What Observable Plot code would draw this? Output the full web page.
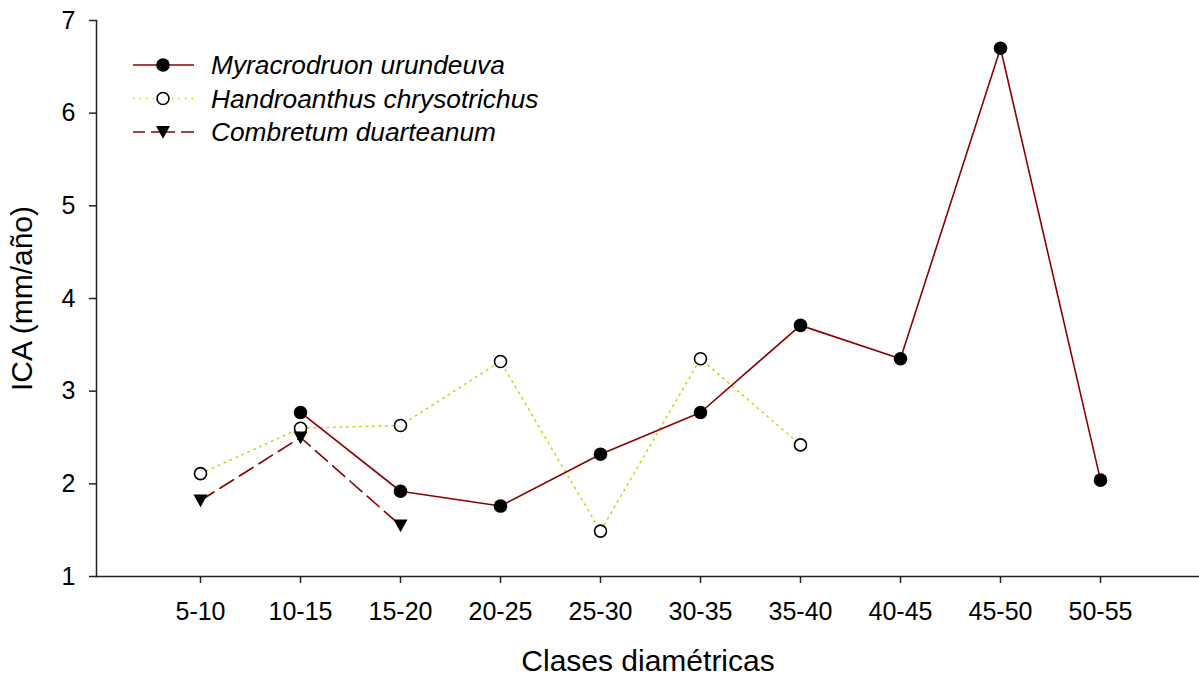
<!DOCTYPE html>
<html><head><meta charset="utf-8">
<script src="https://cdn.jsdelivr.net/npm/d3@7"></script>
<script src="https://cdn.jsdelivr.net/npm/@observablehq/plot@0.6"></script>
<style>body{margin:0;background:#fff;}</style>
</head><body><div id="chart"></div>
<script>
const classes = ["5-10","10-15","15-20","20-25","25-30","30-35","35-40","40-45","45-50","50-55"];
const myracrodruon = [null, 2.77, 1.92, 1.76, 2.32, 2.77, 3.71, 3.35, 6.70, 2.04];
const handroanthus = [2.11, 2.60, 2.63, 3.32, 1.49, 3.35, 2.42, null, null, null];
const combretum = [1.82, 2.50, 1.55, null, null, null, null, null, null, null];
const seriesNames = ["Myracrodruon urundeuva", "Handroanthus chrysotrichus", "Combretum duarteanum"];
const yTicks = [1, 2, 3, 4, 5, 6, 7];
const xTitle = "Clases diamétricas";
const yTitle = "ICA (mm/año)";

const toRows = (vals) => classes.map((c, i) => ({cls: c, v: vals[i]})).filter(d => d.v != null);
const myr = toRows(myracrodruon), han = toRows(handroanthus), com = toRows(combretum);

const darkRed = "#8b0000";
const yellow = "#d0d000";
const triangleDown = {draw(ctx, size) {
  const r = Math.sqrt(size / Math.PI);
  ctx.moveTo(-r, -r * 0.85); ctx.lineTo(r, -r * 0.85); ctx.lineTo(0, r * 0.95); ctx.closePath();
}};

const chart = Plot.plot({
  width: 1199, height: 679,
  marginLeft: 96, marginRight: 0, marginTop: 20, marginBottom: 103,
  style: {fontFamily: "'Liberation Sans', Arial, sans-serif", fontSize: "25px", color: "#000", background: "#fff", overflow: "visible"},
  x: {type: "point", domain: classes, range: [197, 1103], padding: 0, label: null},
  y: {domain: [1, 7], label: null},
  marks: [
    Plot.frame({anchor: "left", stroke: "#222", strokeWidth: 1.5}),
    Plot.frame({anchor: "bottom", stroke: "#222", strokeWidth: 1.5}),
    Plot.axisX({tickSize: 7, tickPadding: 19, strokeWidth: 1.5, stroke: "#222", fill: "#000", fontSize: 25, label: xTitle, labelAnchor: "center", labelOffset: 94, labelArrow: "none"}),
    Plot.axisY({ticks: yTicks, tickFormat: d => String(d), tickSize: 7, tickPadding: 14, strokeWidth: 1.5, stroke: "#222", fill: "#000", fontSize: 25, label: yTitle, labelAnchor: "center", labelOffset: 86, labelArrow: "none"}),
    Plot.line(han, {x: "cls", y: "v", stroke: yellow, strokeWidth: 1.5, strokeDasharray: "1.5 5"}),
    Plot.dot(han, {x: "cls", y: "v", r: 6, fill: "white", stroke: "#000", strokeWidth: 1.6}),
    Plot.line(com, {x: "cls", y: "v", stroke: darkRed, strokeWidth: 1.6, strokeDasharray: "16 7"}),
    Plot.dot(com, {x: "cls", y: "v", r: 7, symbol: triangleDown, fill: "#000", stroke: "none"}),
    Plot.line(myr, {x: "cls", y: "v", stroke: darkRed, strokeWidth: 1.6}),
    Plot.dot(myr, {x: "cls", y: "v", r: 6.8, fill: "#000", stroke: "none"})
  ]
});

const svg = d3.select(chart);
svg.selectAll("text").filter(function () { return this.textContent === xTitle || this.textContent === yTitle; })
  .style("font-size", "30px");

// legend
const legendRows = [
  {name: seriesNames[0], stroke: darkRed, dash: null, marker: "circle"},
  {name: seriesNames[1], stroke: yellow, dash: "1.5 5", marker: "open"},
  {name: seriesNames[2], stroke: darkRed, dash: "12 6 24 6 13", marker: "tri"}
];
const lg = svg.append("g").attr("class", "legend").attr("text-anchor", "start");
legendRows.forEach((d, i) => {
  const y = 65 + i * 33.5;
  const g = lg.append("g").attr("transform", `translate(0,${y})`);
  g.append("line").attr("x1", 133).attr("x2", 194).attr("y1", 0).attr("y2", 0)
    .attr("stroke", d.stroke).attr("stroke-width", 1.6)
    .attr("stroke-dasharray", d.dash);
  if (d.marker === "circle") g.append("circle").attr("cx", 163).attr("cy", 0).attr("r", 6.8).attr("fill", "#000");
  if (d.marker === "open") g.append("circle").attr("cx", 163).attr("cy", 0).attr("r", 6).attr("fill", "#fff").attr("stroke", "#000").attr("stroke-width", 1.6);
  if (d.marker === "tri") g.append("path").attr("transform", "translate(163,0)").attr("d", d3.symbol(triangleDown, 7 * 7 * Math.PI)()).attr("fill", "#000");
  g.append("text").attr("x", 211).attr("y", 0).attr("dy", "0.35em").attr("text-anchor", "start")
    .attr("font-style", "italic").attr("font-size", 26.3).attr("fill", "#000").text(d.name);
});

document.getElementById("chart").appendChild(chart);
</script>
</body></html>
